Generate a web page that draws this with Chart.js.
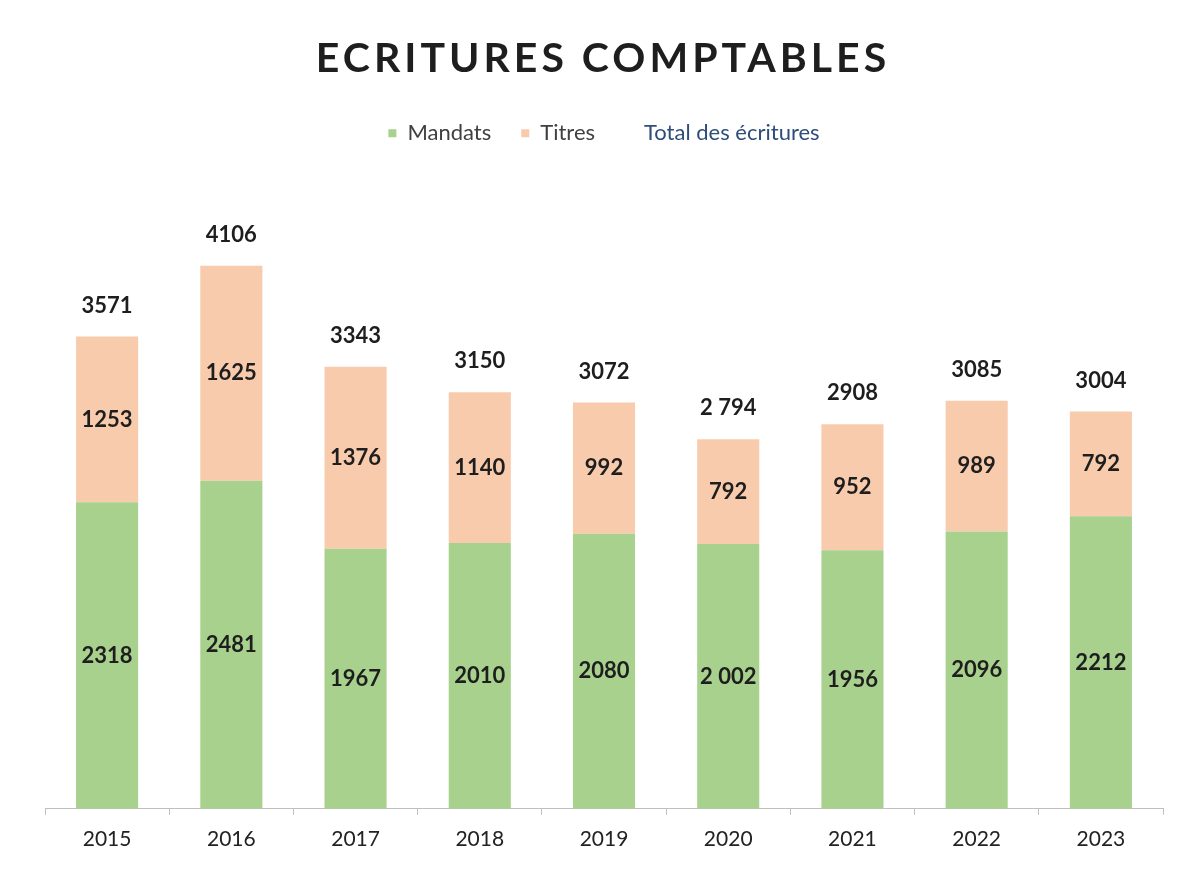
<!DOCTYPE html>
<html>
<head>
<meta charset="utf-8">
<script src="https://cdn.jsdelivr.net/npm/chart.js@4/dist/chart.umd.min.js"></script>
<style>
    html, body { margin: 0; padding: 0; background: #ffffff; }
    #wrap { width: 1182px; height: 880px; }
</style>
</head>
<body>
<div id="wrap"><canvas id="chart"></canvas></div>
<script>
// DATA
const years = ['2015', '2016', '2017', '2018', '2019', '2020', '2021', '2022', '2023'];
const mandats = [2318, 2481, 1967, 2010, 2080, 2002, 1956, 2096, 2212];
const titres = [1253, 1625, 1376, 1140, 992, 792, 952, 989, 792];
const totals = [3571, 4106, 3343, 3150, 3072, 2794, 2908, 3085, 3004];
// labels written with a space as thousands separator in the original
const spacedYears = ['2020'];

function fmt(value, index) {
    const s = String(value);
    if (spacedYears.includes(years[index]) && s.length > 3) {
        return s.slice(0, s.length - 3) + ' ' + s.slice(-3);
    }
    return s;
}

const FONT = 'Lato, "Open Sans", sans-serif';
const TITLE = 'ECRITURES COMPTABLES';

// draws values inside bars and totals above them
const valueLabels = {
    id: 'valueLabels',
    afterDatasetsDraw(chart) {
        const ctx = chart.ctx;
        ctx.save();
        ctx.font = 'bold 22px ' + FONT;
        ctx.fillStyle = '#1e1e1e';
        ctx.textAlign = 'center';
        ctx.textBaseline = 'middle';
        chart.data.datasets.forEach((ds, di) => {
            const meta = chart.getDatasetMeta(di);
            meta.data.forEach((el, i) => {
                const text = fmt(ds.data[i], i);
                if (ds.type === 'line') {
                    ctx.fillText(text, el.x, el.y - 31);
                } else {
                    ctx.fillText(text, el.x, (el.y + el.base) / 2);
                }
            });
        });
        ctx.restore();
    },
    // title drawn by hand so it can be letter-spaced
    afterDraw(chart) {
        const box = chart.titleBlock;
        const ctx = chart.ctx;
        ctx.save();
        ctx.font = 'bold 41px ' + FONT;
        ctx.letterSpacing = '4px';
        ctx.fillStyle = '#1e1e1e';
        ctx.textAlign = 'center';
        ctx.textBaseline = 'middle';
        ctx.fillText(TITLE, 603, box.top + 24);
        ctx.restore();
    }
};

const data = {
    labels: years,
    datasets: [{
        type: 'line',
        label: 'Total des écritures',
        data: totals,
        borderColor: 'rgba(0,0,0,0)',
        backgroundColor: 'rgba(0,0,0,0)',
        pointRadius: 0,
        order: 0
    }, {
        label: 'Mandats',
        data: mandats,
        backgroundColor: '#a9d18e',
        stack: 'a',
        order: 1
    }, {
        label: 'Titres',
        data: titres,
        backgroundColor: '#f8cbad',
        stack: 'a',
        order: 1
    }]
};

const config = {
    type: 'bar',
    data: data,
    options: {
        responsive: true,
        maintainAspectRatio: false,
        animation: false,
        barPercentage: 0.5,
        categoryPercentage: 1,
        layout: {
            padding: { left: 45, right: 19, top: 35, bottom: 16 }
        },
        scales: {
            x: {
                stacked: true,
                grid: {
                    drawOnChartArea: false,
                    color: '#bfbfbf',
                    tickLength: 6
                },
                border: { color: '#bfbfbf' },
                ticks: {
                    color: '#222222',
                    font: { family: FONT, size: 21 },
                    padding: 12
                }
            },
            y: {
                stacked: true,
                display: false,
                min: 0,
                max: 4950
            }
        },
        plugins: {
            title: {
                display: true,
                text: TITLE,
                color: 'rgba(0,0,0,0)',
                font: { family: FONT, size: 41, weight: 'bold' },
                padding: { top: 0, bottom: 8 }
            },
            legend: {
                position: 'top',
                labels: {
                    boxWidth: 8,
                    boxHeight: 8,
                    padding: 30,
                    font: { family: FONT, size: 22 },
                    generateLabels(chart) {
                        const order = [1, 2, 0];
                        return order.map(i => {
                            const ds = chart.data.datasets[i];
                            const isTotal = ds.type === 'line';
                            return {
                                text: ds.label,
                                datasetIndex: i,
                                fillStyle: isTotal ? 'rgba(0,0,0,0)' : ds.backgroundColor,
                                strokeStyle: 'rgba(0,0,0,0)',
                                lineWidth: 0,
                                fontColor: isTotal ? '#2e4d7a' : '#404040'
                            };
                        });
                    }
                }
            },
            tooltip: { enabled: false }
        }
    },
    plugins: [valueLabels]
};

let chart = new Chart(
    document.getElementById('chart'),
    config
);
</script>
</body>
</html>
